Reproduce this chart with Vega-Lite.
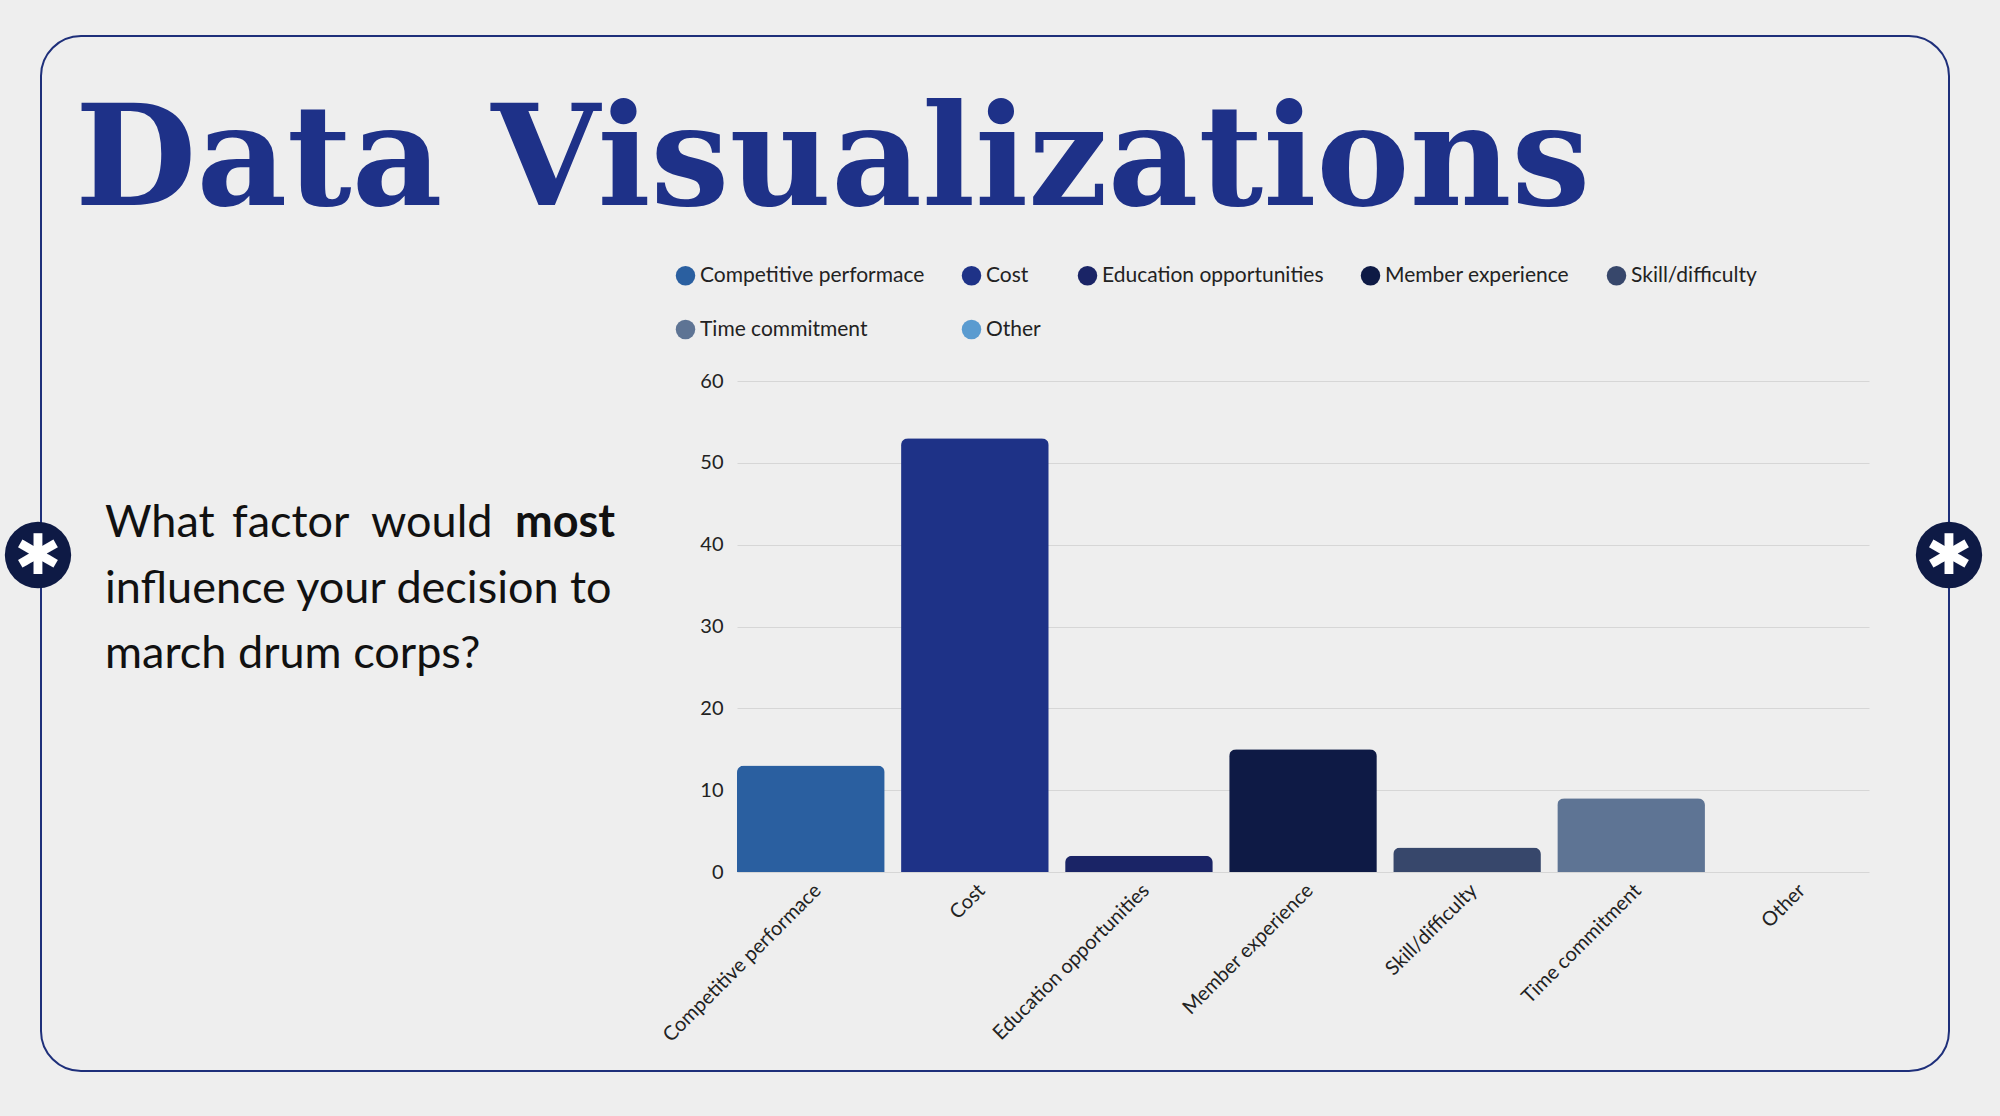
{
  "$schema": "https://vega.github.io/schema/vega-lite/v6.json",
  "autosize": "none",
  "width": 1132,
  "height": 491,
  "padding": {"left": 737, "top": 381, "right": 131, "bottom": 244},
  "background": "#eeeeee",
  "config": {
    "view": {"stroke": null},
    "font": "Lato",
    "axis": {"labelFont": "Lato", "labelColor": "#222", "labelFontSize": 20}
  },
  "datasets": {
    "bars": [
      {"factor": "Competitive performace", "count": 13},
      {"factor": "Cost", "count": 53},
      {"factor": "Education opportunities", "count": 2},
      {"factor": "Member experience", "count": 15},
      {"factor": "Skill/difficulty", "count": 3},
      {"factor": "Time commitment", "count": 9},
      {"factor": "Other", "count": 0}
    ],
    "one": [{"k": 1}]
  },
  "layer": [
    {
      "data": {"name": "one"},
      "mark": {"type": "rect", "fill": null, "stroke": "#1e2f7a", "strokeWidth": 2, "cornerRadius": 40, "clip": false},
      "encoding": {
        "x": {"value": -696}, "x2": {"value": 1212},
        "y": {"value": -345}, "y2": {"value": 690}
      }
    },
    {
      "data": {"name": "one"},
      "mark": {"type": "text", "text": "Data Visualizations", "font": "DejaVu Serif", "fontWeight": "bold", "fontSize": 140, "color": "#1e3188", "align": "left", "baseline": "alphabetic"},
      "encoding": {"x": {"value": -662}, "y": {"value": -176}}
    },
    {
      "data": {"values": [
        {"t": "What", "x": -632, "y": 156},
        {"t": "factor", "x": -505, "y": 156},
        {"t": "would", "x": -366, "y": 156},
        {"t": "influence your decision to", "x": -632, "y": 222},
        {"t": "march drum corps?", "x": -632, "y": 287}
      ]},
      "mark": {"type": "text", "fontSize": 45, "color": "#111", "align": "left", "baseline": "alphabetic"},
      "encoding": {"text": {"field": "t"}, "x": {"field": "x", "type": "quantitative", "scale": null}, "y": {"field": "y", "type": "quantitative", "scale": null}}
    },
    {
      "data": {"name": "one"},
      "mark": {"type": "text", "text": "most", "fontSize": 45, "fontWeight": "bold", "color": "#111", "align": "right", "baseline": "alphabetic"},
      "encoding": {"x": {"value": -122}, "y": {"value": 156}}
    },
    {
      "data": {"values": [{"x": -699}, {"x": 1212}]},
      "mark": {"type": "point", "shape": "circle", "filled": true, "size": 4400, "color": "#0e1a45", "opacity": 1},
      "encoding": {"x": {"field": "x", "type": "quantitative", "scale": null}, "y": {"value": 174}}
    },
    {
      "data": {"values": [{"x": -699}, {"x": 1212}]},
      "mark": {"type": "text", "text": "✱", "fontSize": 56, "font": "DejaVu Sans", "color": "white", "align": "center", "baseline": "middle"},
      "encoding": {"x": {"field": "x", "type": "quantitative", "scale": null}, "y": {"value": 176}}
    },
    {
      "data": {"name": "bars"},
      "mark": {"type": "bar", "cornerRadiusTopLeft": 7, "cornerRadiusTopRight": 7},
      "encoding": {
        "x": {
          "field": "factor", "type": "nominal", "sort": null,
          "scale": {"paddingInner": 0.1, "paddingOuter": 0},
          "axis": {"title": null, "labelAngle": -45, "domain": false, "ticks": false, "labelPadding": 8, "labelLimit": 0}
        },
        "y": {
          "field": "count", "type": "quantitative",
          "scale": {"domain": [0, 60]},
          "axis": {"title": null, "tickCount": 6, "domain": false, "ticks": false, "gridColor": "#d6d6d6", "labelPadding": 14}
        },
        "color": {
          "field": "factor", "type": "nominal", "sort": null,
          "scale": {"range": ["#2a5fa0", "#1e3287", "#1a2466", "#0e1a45", "#37476b", "#5e7494", "#5a9bd0"]},
          "legend": {
            "title": null, "orient": "none", "legendX": -62, "legendY": -116,
            "direction": "horizontal", "columns": 5, "symbolType": "circle", "symbolSize": 380,
            "labelFontSize": 21, "labelColor": "#222", "labelLimit": 0, "columnPadding": 36, "rowPadding": 32
          }
        }
      }
    }
  ]
}
